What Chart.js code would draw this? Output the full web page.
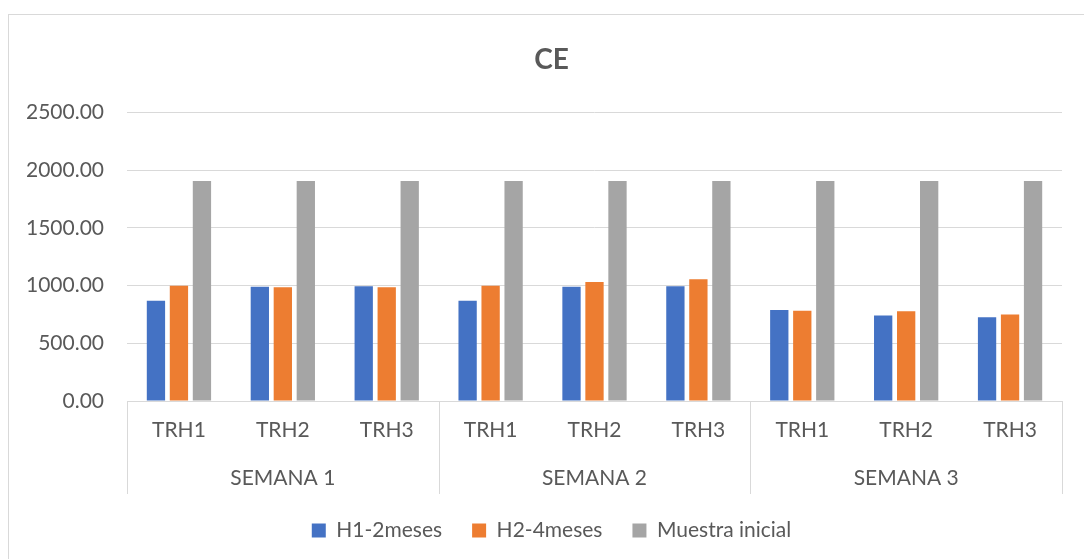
<!DOCTYPE html>
<html>
<head>
<meta charset="utf-8">
<script src="https://cdn.jsdelivr.net/npm/chart.js@4.4.1/dist/chart.umd.min.js"></script>
<style>
  html, body { margin: 0; padding: 0; background: #fff; overflow: hidden; width: 1084px; height: 559px; }
  #frame {
    position: absolute; left: 8px; top: 14px; width: 1200px; height: 700px;
    border-left: 1px solid #d9d9d9; border-top: 1px solid #d9d9d9;
  }
  /* the chart object is a bit wider than the window, as in the original */
  #wrap { position: absolute; left: 0; top: 0; width: 1100px; height: 559px; }
</style>
</head>
<body>
<div id="frame"></div>
<div id="wrap"><canvas id="ceChart"></canvas></div>
<script>
// Categories: treatments inside each week
const weeks = ['SEMANA 1', 'SEMANA 2', 'SEMANA 3'];
const treatments = ['TRH1', 'TRH2', 'TRH3'];

// Series values (CE), in week / treatment order
const h1Values = [870, 991, 995, 869, 991, 995, 788, 742, 727];
const h2Values = [1000, 986, 986, 1000, 1032, 1056, 782, 777, 750];
const initialValues = [1906, 1906, 1906, 1906, 1906, 1906, 1906, 1906, 1906];

// Y axis ticks
const yTicks = [0, 500, 1000, 1500, 2000, 2500];

const textColor = '#595959';
const lineColor = '#d9d9d9';
const fontFamily = 'Lato';

// Two-line labels: treatment on top, week name under the middle treatment
const labels = [];
weeks.forEach(week => {
  treatments.forEach((trh, i) => {
    labels.push([trh, i === 1 ? week : '']);
  });
});

// Vertical separators between the week groups, below the x axis
const weekSeparators = {
  id: 'weekSeparators',
  afterDraw(chart) {
    const x = chart.scales.x;
    const area = chart.chartArea;
    const c = chart.ctx;
    c.save();
    c.strokeStyle = lineColor;
    c.lineWidth = 1;
    for (let w = 0; w <= weeks.length; w++) {
      let px;
      if (w === 0) px = x.left;
      else if (w === weeks.length) px = x.right;
      else px = (x.getPixelForValue(w * 3 - 1) + x.getPixelForValue(w * 3)) / 2;
      px = Math.round(px) + 0.5;
      c.beginPath();
      c.moveTo(px, area.bottom);
      c.lineTo(px, area.bottom + 93);
      c.stroke();
    }
    c.restore();
  }
};

const ctx = document.getElementById('ceChart').getContext('2d');
new Chart(ctx, {
  type: 'bar',
  data: {
    labels: labels,
    datasets: [
      { label: 'H1-2meses', data: h1Values, backgroundColor: '#4472C4' },
      { label: 'H2-4meses', data: h2Values, backgroundColor: '#ED7D31' },
      { label: 'Muestra inicial', data: initialValues, backgroundColor: '#A5A5A5' }
    ]
  },
  plugins: [weekSeparators],
  options: {
    responsive: true,
    maintainAspectRatio: false,
    animation: false,
    categoryPercentage: 0.664,
    barPercentage: 0.796,
    layout: { padding: { left: 3, right: 0, top: 0, bottom: 8 } },
    scales: {
      x: {
        grid: {
          display: true,
          drawOnChartArea: false,
          tickLength: 17,
          color: 'rgba(0,0,0,0)'
        },
        border: { display: true, color: lineColor },
        ticks: {
          autoSkip: false,
          maxRotation: 0,
          padding: -12,
          color: textColor,
          font: { family: fontFamily, size: 21, lineHeight: 48 / 21 }
        }
      },
      y: {
        min: 0,
        max: 2500,
        afterBuildTicks: scale => { scale.ticks = yTicks.map(v => ({ value: v })); },
        afterFit: scale => { scale.width = 124; },
        grid: { color: lineColor, drawTicks: false },
        border: { display: false },
        ticks: {
          padding: 23,
          color: textColor,
          font: { family: fontFamily, size: 21 },
          callback: value => Number(value).toFixed(2)
        }
      },
      // empty space on the right, keeps the plot narrower than the title/legend
      yRight: {
        type: 'linear',
        position: 'right',
        grid: { display: false },
        border: { display: false },
        ticks: { display: false },
        afterFit: scale => { scale.width = 38; }
      }
    },
    plugins: {
      title: {
        display: true,
        text: 'CE',
        color: textColor,
        font: { family: fontFamily, size: 28, weight: 'bold', lineHeight: 1.2 },
        padding: { top: 43, bottom: 36 }
      },
      legend: {
        position: 'bottom',
        labels: {
          boxWidth: 14,
          boxHeight: 14,
          padding: 30,
          color: textColor,
          font: { family: fontFamily, size: 21 }
        }
      },
      tooltip: { enabled: false }
    }
  }
});
</script>
</body>
</html>
